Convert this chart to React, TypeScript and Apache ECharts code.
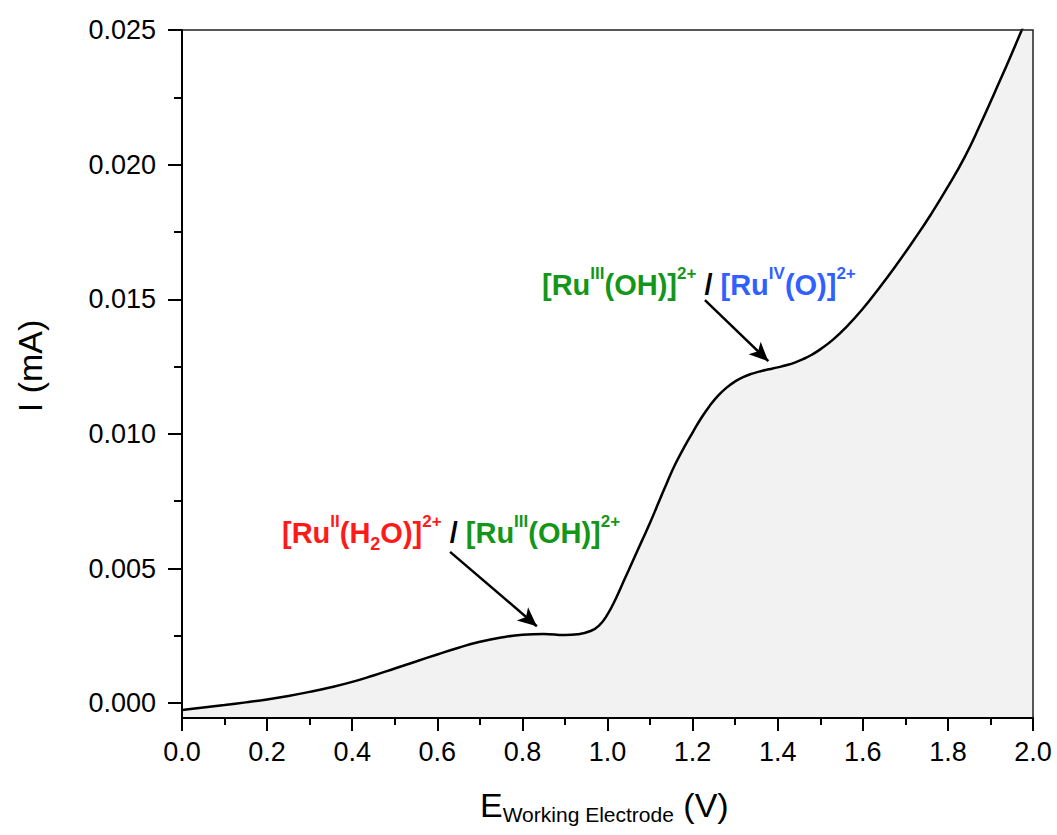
import React, { useEffect, useRef } from 'react';
import * as echarts from 'echarts';

// Working electrode potential (V)
const potentialV = [
  0.0, 0.05, 0.1, 0.15, 0.2, 0.25, 0.3, 0.35, 0.4, 0.45, 0.5, 0.55, 0.6, 0.65, 0.7, 0.75, 0.8,
  0.85, 0.9, 0.93, 0.96, 0.98, 1.0, 1.02, 1.04, 1.06, 1.08, 1.1, 1.12, 1.14, 1.16, 1.18, 1.2,
  1.22, 1.24, 1.26, 1.28, 1.3, 1.32, 1.34, 1.36, 1.38, 1.4, 1.42, 1.44, 1.46, 1.48, 1.5, 1.53,
  1.56, 1.6, 1.64, 1.68, 1.72, 1.76, 1.8, 1.84, 1.875, 1.91, 1.95, 2.0,
];
// Current (mA)
const currentMA = [
  -0.00025, -0.00016, -0.00007, 0.00003, 0.00014, 0.00027, 0.00042, 0.00059, 0.00079, 0.00103,
  0.00129, 0.00155, 0.00181, 0.00206, 0.00228, 0.00244, 0.00254, 0.00257, 0.00253, 0.00256,
  0.00268, 0.00288, 0.0033, 0.0039, 0.0046, 0.0053, 0.006, 0.0067, 0.00745, 0.0082, 0.0089,
  0.0095, 0.01005, 0.01058, 0.01104, 0.01142, 0.01172, 0.01195, 0.01212, 0.01224, 0.01233,
  0.0124, 0.01247, 0.01255, 0.01265, 0.01278, 0.01294, 0.01314, 0.0135, 0.01395, 0.01465,
  0.01545, 0.0163, 0.0172, 0.01815, 0.01918, 0.0203, 0.02145, 0.02268, 0.02412, 0.026,
];

const yLabelValues = [0, 0.005, 0.01, 0.015, 0.02, 0.025];
const yMinorValues = [0.0025, 0.0075, 0.0125, 0.0175, 0.0225];

// Annotation arrows [start, tip] in data coordinates (V, mA)
const arrowLow = [
  [0.63, 0.00562],
  [0.834, 0.00286],
];
const arrowHigh = [
  [1.229, 0.01497],
  [1.378, 0.0127],
];

const FONT = '"Liberation Sans", Arial, Helvetica, sans-serif';

const richStyles = (fill: string) => ({
  main: { fontSize: 29, fontWeight: 'bold', fill, lineHeight: 40, fontFamily: FONT },
  sup: { fontSize: 17, fontWeight: 'bold', fill, lineHeight: 12, verticalAlign: 'top', fontFamily: FONT },
  sub: { fontSize: 18, fontWeight: 'bold', fill, lineHeight: 20, verticalAlign: 'bottom', fontFamily: FONT },
});

function mkRich() {
  const red = richStyles('#ff1a1a');
  const green = richStyles('#13961a');
  const blue = richStyles('#3060ff');
  const black = richStyles('#000000');
  return {
    r: red.main, rs: red.sup, rb: red.sub,
    g: green.main, gs: green.sup,
    b: blue.main, bs: blue.sup,
    k: black.main,
  };
}

export default function App() {
  const ref = useRef<HTMLDivElement>(null);
  useEffect(() => {
    if (!ref.current) return;
    const chart = echarts.init(ref.current, null, { renderer: 'svg' });
    const axisLineStyle = { color: '#000', width: 2 };
    const rich = mkRich();
    const option: any = {
      animation: false,
      backgroundColor: '#ffffff',
      grid: {
        left: 182, right: 24, top: 30, bottom: 117,
        show: true, borderColor: '#222', borderWidth: 1.5, backgroundColor: 'transparent', z: 5,
      },
      xAxis: {
        type: 'value', min: 0, max: 2, interval: 0.2,
        axisLine: { onZero: false, lineStyle: axisLineStyle },
        axisTick: { show: true, length: 13, lineStyle: axisLineStyle },
        minorTick: { show: true, splitNumber: 2, length: 7, lineStyle: axisLineStyle },
        splitLine: { show: false },
        minorSplitLine: { show: false },
        axisLabel: {
          formatter: (v: number) => v.toFixed(1), fontSize: 27, color: '#000', margin: 20, fontFamily: FONT,
        },
        z: 6,
      },
      yAxis: [
        {
          type: 'value', min: -0.00055, max: 0.025, position: 'left',
          axisLine: { show: true, onZero: false, lineStyle: axisLineStyle },
          axisTick: { show: true, customValues: yLabelValues, length: 14, lineStyle: axisLineStyle },
          axisLabel: {
            customValues: yLabelValues, formatter: (v: number) => v.toFixed(3),
            fontSize: 27, color: '#000', margin: 26, fontFamily: FONT,
          },
          splitLine: { show: false },
          z: 6,
        },
        {
          type: 'value', min: -0.00055, max: 0.025, position: 'left',
          axisLine: { show: false, onZero: false },
          axisTick: { show: true, customValues: yMinorValues, length: 8, lineStyle: axisLineStyle },
          axisLabel: { show: false },
          splitLine: { show: false },
          z: 6,
        },
      ],
      series: [
        {
          type: 'line',
          data: potentialV.map((x, i) => [x, currentMA[i]]),
          showSymbol: false,
          smooth: 0.5,
          clip: true,
          lineStyle: { color: '#000', width: 2.5 },
          areaStyle: { color: '#f2f2f2', origin: 'start', opacity: 1 },
          markLine: {
            silent: true,
            symbol: ['none', 'arrow'],
            symbolSize: [13, 19],
            label: { show: false },
            lineStyle: { color: '#000', width: 2.5, type: 'solid' },
            emphasis: { disabled: true },
            data: [
              [{ coord: arrowLow[0] }, { coord: arrowLow[1] }],
              [{ coord: arrowHigh[0] }, { coord: arrowHigh[1] }],
            ],
          },
        },
      ],
      graphic: [
        {
          type: 'text', x: 30, y: 366, rotation: Math.PI / 2,
          style: {
            text: 'I (mA)', font: `34px ${FONT}`, fill: '#000', align: 'center', verticalAlign: 'middle',
          },
        },
        {
          type: 'text', x: 480, y: 785,
          style: {
            text: '{e|E}{s|Working Electrode}{e| (V)}',
            align: 'left', verticalAlign: 'top',
            rich: {
              e: { fontSize: 34, fill: '#000', lineHeight: 40, fontFamily: FONT },
              s: { fontSize: 21, fill: '#000', lineHeight: 15, verticalAlign: 'bottom', fontFamily: FONT },
            },
          },
        },
        {
          type: 'text', x: 282, y: 513, z: 10,
          style: {
            text: '{r|[Ru}{rs|II}{r|(H}{rb|2}{r|O)]}{rs|2+}{k| / }{g|[Ru}{gs|III}{g|(OH)]}{gs|2+}',
            align: 'left', verticalAlign: 'top', rich,
          },
        },
        {
          type: 'text', x: 542, y: 265, z: 10,
          style: {
            text: '{g|[Ru}{gs|III}{g|(OH)]}{gs|2+}{k| / }{b|[Ru}{bs|IV}{b|(O)]}{bs|2+}',
            align: 'left', verticalAlign: 'top', rich,
          },
        },
      ],
    };
    chart.setOption(option);
    return () => chart.dispose();
  }, []);
  return (
    <div
      ref={ref}
      style={{ position: 'fixed', left: 0, top: 0, width: 1057, height: 835, background: '#fff' }}
    />
  );
}
